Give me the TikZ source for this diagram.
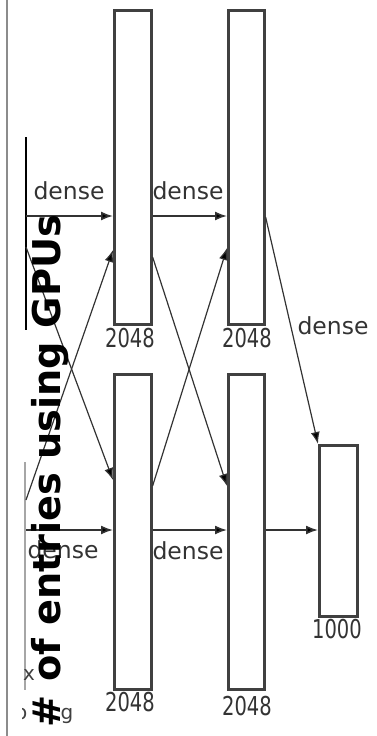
\documentclass[tikz,border=0pt]{standalone}
\usepackage{fontspec}
\setmainfont{DejaVu Sans}
\usetikzlibrary{arrows.meta}
\begin{document}
\begin{tikzpicture}[x=1pt,y=-1pt,
  layer/.style={draw=black!75, line width=2.6pt, fill=white, inner sep=0pt, anchor=north west},
  arr/.style={draw=black!80, line width=1.6pt, -{Latex[length=12pt,width=9pt,fill=black]}},
  darr/.style={draw=black!80, line width=1.2pt, -{Latex[length=12pt,width=9pt,fill=black]}},
  lbl/.style={text=black!80, inner sep=0pt, font=\fontsize{23.5}{24}\selectfont},
  num/.style={text=black!80, inner sep=0pt, font=\fontsize{26}{26}\selectfont, xscale=0.75, transform shape},
  small/.style={text=black!75, inner sep=0pt, font=\fontsize{20}{20}\selectfont}]
\useasboundingbox (0,0) rectangle (376,736);

% edge of the panel and the clipped previous layers
\draw[black!45, line width=2.2pt] (7,0) coordinate (panelTop) -- (7,736) coordinate (panelBot);
\draw[black, line width=1.8pt] (26,137) coordinate (prevTopA) -- (26,330) coordinate (prevTopB);
\draw[black!35, line width=1.1pt] (25,462) coordinate (prevBotA) -- (25,690) coordinate (prevBotB);

% layers
\node[layer, minimum width=37pt, minimum height=314pt] (A) at (113,9) {};
\node[layer, minimum width=36pt, minimum height=314pt] (B) at (227,9) {};
\node[layer, minimum width=37pt, minimum height=315pt] (C) at (113,373) {};
\node[layer, minimum width=36pt, minimum height=315pt] (D) at (227,373) {};
\node[layer, minimum width=38pt, minimum height=171pt] (E) at (318,444) {};

% sizes
\node[num] (nA) at (130,338) {2048};
\node[num] (nB) at (247,338) {2048};
\node[num] (nC) at (130,702) {2048};
\node[num] (nD) at (247,706) {2048};
\node[num] (nE) at (337,629) {1000};

% incoming connections from the clipped layers
\coordinate (inTop) at (26,216);
\coordinate (inBot) at (26,530);
\coordinate (inUp) at (26,500);
\coordinate (inDown) at (26,247);

% straight connections
\draw[arr] (inTop) -- (A.west |- inTop);
\draw[arr] (A.east |- inTop) -- (B.west |- inTop);
\draw[arr] (inBot) -- (C.west |- inBot);
\draw[arr] (C.east |- inBot) -- (D.west |- inBot);
\draw[arr] (D.east |- inBot) -- (E.west |- inBot);

% crossing connections
\draw[darr] (inUp) -- (A.west |- 0,250);
\draw[darr] (inDown) -- (C.west |- 0,480);
\draw[darr] (A.east |- 0,257) -- (D.west |- 0,486);
\draw[darr] (C.east |- 0,486) -- (B.west |- 0,248);
\draw[darr] (B.east |- 0,217) -- (E.north west);

% labels
\node[lbl] (d1) at (69,191) {dense};
\node[lbl] (d2) at (188,191) {dense};
\node[lbl] (d3) at (63,550) {dense};
\node[lbl] (d4) at (188,551) {dense};
\node[lbl] (d5) at (333,326) {dense};

% fragments of neighbouring labels
\node[small] (fx) at (29,675) {x};
\begin{scope}
  \clip (22,690) rectangle (100,736);
  \node[small, anchor=base west] (fo) at (15,719) {o};
\end{scope}
\node[small, anchor=base] (fg) at (67,719) {g};

% axis title
\node[rotate=90, anchor=base, inner sep=0pt, text=black,
      font=\bfseries\fontsize{38.3}{40}\selectfont] (axis) at (60,471) {\# of entries using GPUs};
\end{tikzpicture}
\end{document}
